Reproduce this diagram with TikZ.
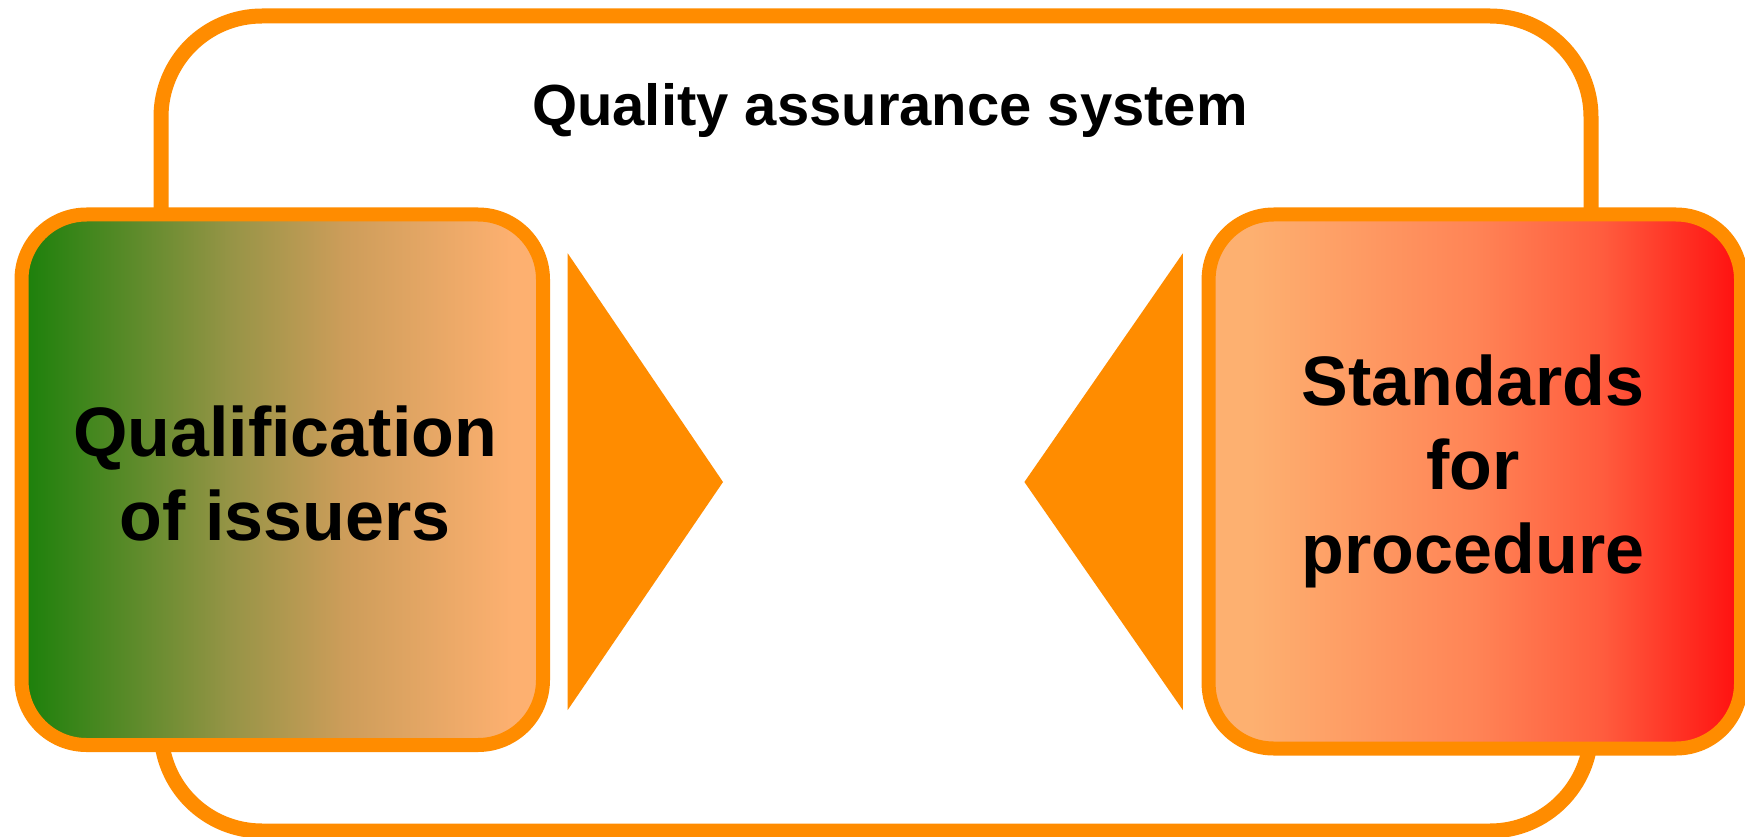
\documentclass[tikz,border=0pt]{standalone}
\usepackage{fontspec}
\setmainfont{Liberation Sans}
\definecolor{qorange}{RGB}{255,140,0}
\definecolor{qgreen}{RGB}{26,128,10}
\definecolor{qolive}{RGB}{150,148,70}
\definecolor{qtan}{RGB}{205,157,90}
\definecolor{qpeach}{RGB}{253,176,112}
\definecolor{qsalmon}{RGB}{255,132,86}
\definecolor{qcoral}{RGB}{255,92,62}
\definecolor{qred}{RGB}{255,15,15}
\pgfdeclarehorizontalshading{leftgrad}{100bp}{color(0bp)=(qgreen); color(25bp)=(qgreen); color(45bp)=(qolive); color(56bp)=(qtan); color(72bp)=(qpeach); color(100bp)=(qpeach)}
\pgfdeclarehorizontalshading{rightgrad}{100bp}{color(0bp)=(qpeach); color(29bp)=(qpeach); color(50bp)=(qsalmon); color(62bp)=(qcoral); color(75bp)=(qred); color(100bp)=(qred)}
\tikzset{
  frame/.style={draw=qorange, line width=15pt, rounded corners=101pt, rectangle, inner sep=0pt},
  box/.style={draw=qorange, line width=14pt, rounded corners=65pt, rectangle, inner sep=0pt},
  bigtext/.style={font=\fontsize{70}{84}\selectfont\bfseries, align=center, inner sep=0pt},
  titletext/.style={font=\fontsize{58}{70}\selectfont\bfseries, inner sep=0pt},
  tri/.style={fill=qorange}
}
\begin{document}
\begin{tikzpicture}[x=1pt,y=-1pt]
\useasboundingbox[fill=white] (0,0) rectangle (1745,837);
\node[frame, minimum width=1430pt, minimum height=815pt] (outer) at (876,423.5) {};
\node[titletext, anchor=base] (title) at (890,126) {Quality assurance system};
\node[box, shading=leftgrad, minimum width=521.5pt, minimum height=530.5pt] (left) at (282.25,479.75) {};
\node[box, shading=rightgrad, minimum width=532.4pt, minimum height=534pt] (right) at (1474.8,481.5) {};
\node[bigtext, anchor=base] (lefttext) at (285,540) {Qualification\\of issuers};
\node[bigtext, anchor=base] (righttext) at (1473,573) {Standards\\for\\procedure};
\coordinate (lt1) at (567.7,253.3);
\coordinate (lt2) at (567.7,710);
\coordinate (ltip) at (723,482);
\coordinate (rt1) at (1182.8,253.3);
\coordinate (rt2) at (1182.8,710);
\coordinate (rtip) at (1024.4,482);
\fill[tri] (lt1) -- (ltip) -- (lt2) -- cycle;
\fill[tri] (rt1) -- (rtip) -- (rt2) -- cycle;
\end{tikzpicture}
\end{document}
